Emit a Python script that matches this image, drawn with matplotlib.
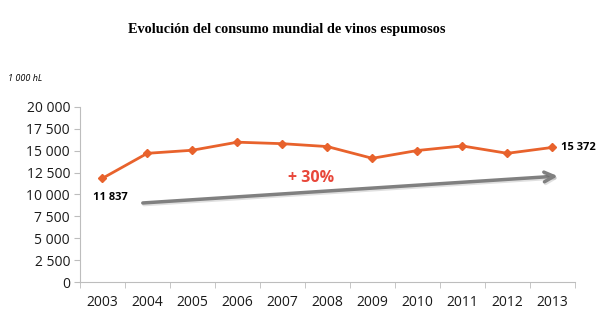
import numpy as np
import matplotlib.pyplot as plt
from matplotlib.ticker import FuncFormatter, MultipleLocator
import matplotlib.patheffects as pe

# Consumo mundial de vinos espumosos (miles de hL)
years = ['2003', '2004', '2005', '2006', '2007', '2008',
         '2009', '2010', '2011', '2012', '2013']
consumo = [11837, 14700, 15050, 15970, 15800, 15470,
           14130, 15020, 15540, 14700, 15372]

orange = '#e8622c'
grey_axis = '#bdbdbd'

fig = plt.figure(figsize=(6, 3.33), dpi=100)
ax = fig.add_axes([0.133, 0.153, 0.825, 0.526])

x = np.arange(len(years))
ax.plot(x, consumo, color=orange, lw=2, marker='D', ms=4,
        markerfacecolor=orange, markeredgecolor=orange)

ax.set_xlim(-0.5, len(years) - 0.5)
ax.set_ylim(0, 20000)
ax.yaxis.set_major_locator(MultipleLocator(2500))
ax.yaxis.set_major_formatter(FuncFormatter(lambda v, p: f'{int(v):,}'.replace(',', ' ')))

ax.set_xticks(x)
ax.set_xticklabels(years)
ax.set_xticks(np.arange(-0.5, len(years), 1), minor=True)
ax.tick_params(axis='x', which='major', length=0, pad=9)
ax.tick_params(axis='x', which='minor', length=4, color=grey_axis)
ax.tick_params(axis='y', length=4, color=grey_axis, pad=3)
ax.tick_params(labelsize=10, labelcolor='#1a1a1a')
for lbl in ax.get_xticklabels() + ax.get_yticklabels():
    lbl.set_family('Open Sans')

for s in ['top', 'right']:
    ax.spines[s].set_visible(False)
for s in ['left', 'bottom']:
    ax.spines[s].set_color(grey_axis)

# Etiquetas de primer y ultimo valor
first = f'{consumo[0]:,}'.replace(',', ' ')
last = f'{consumo[-1]:,}'.replace(',', ' ')
ax.annotate(first, (x[0], consumo[0]), xytext=(6, -14), textcoords='offset points',
            ha='center', va='center', fontsize=8, fontweight='bold', family='Open Sans')
ax.annotate(last, (x[-1], consumo[-1]), xytext=(6, 0), textcoords='offset points',
            ha='left', va='center', fontsize=8, fontweight='bold', family='Open Sans')

# Flecha de tendencia
ax.annotate('', xy=(10.12, 12100), xytext=(0.9, 9030),
            arrowprops=dict(arrowstyle='->,head_length=0.7,head_width=0.35',
                            color='#808080', lw=2.5, shrinkA=0, shrinkB=0,
                            path_effects=[pe.SimpleLineShadow(offset=(0.8, -1.2), alpha=0.12),
                                          pe.Normal()]))
ax.text(4.65, 11900, '+ 30%', color='#e8473a', fontsize=11.5, fontweight='bold',
        ha='center', va='center', family='Open Sans')

fig.text(0.013, 0.757, '1 000 hL', fontsize=6.5, style='italic', family='Open Sans')
fig.text(0.478, 0.91, 'Evolución del consumo mundial de vinos espumosos',
         fontsize=10.3, fontweight='bold', family='Liberation Serif', ha='center', va='center')

fig.savefig('out.png', dpi=100)
